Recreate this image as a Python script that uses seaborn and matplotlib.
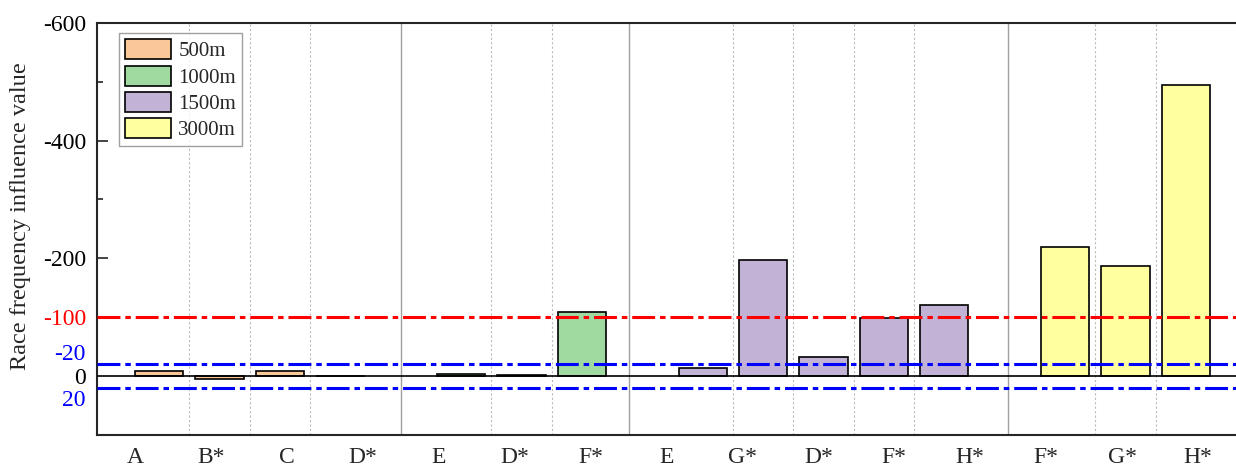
import matplotlib
matplotlib.use("Agg")
import matplotlib.pyplot as plt
import matplotlib.transforms as mtransforms
from matplotlib.patches import Patch
import numpy as np
import pandas as pd
import seaborn as sns

# ---- data ----
categories = ["A", "B*", "C", "D*", "E", "D*", "F*", "E", "G*", "D*", "F*", "H*", "F*", "G*", "H*"]
distances = ["500m"] * 4 + ["1000m"] * 3 + ["1500m"] * 5 + ["3000m"] * 3
values = [-9, 5, -8, 0, -4, -2, -109, -14, -197, -32, -99, -121, -220, -187, -494]
group_names = ["500m", "1000m", "1500m", "3000m"]
group_colors = ["#FAC898", "#A0DAA0", "#C2B2D6", "#FFFFA0"]
ref_red = [-100]
ref_blue = [-20, 20]
ytick_values = [-600, -400, -200, -100, -20, 0, 20]
ytick_colors = ["black", "black", "black", "red", "blue", "black", "blue"]

# bar positions: one slot per bar, one empty slot between distance groups
pos = []
p = 0
for i, d in enumerate(distances):
    if i > 0 and d != distances[i - 1]:
        p += 1
    pos.append(p)
    p += 1

df = pd.DataFrame({"pos": pos, "val": values, "dist": distances, "cat": categories})

sns.set_style("ticks")
plt.rcParams["font.family"] = ["Liberation Serif", "DejaVu Serif"]

fig = plt.figure(figsize=(12.36, 4.69), dpi=100)
ax = fig.add_axes([0.0785, 0.0725, 0.9215, 0.879])

palette = dict(zip(group_names, group_colors))
sns.barplot(data=df, x="pos", y="val", hue="dist", palette=palette, native_scale=True, saturation=1,
            dodge=False, width=0.8, edgecolor="black", linewidth=1.2, legend=False, ax=ax)

xmin, xmax = pos[0] - 1.03, pos[-1] + 0.83
ax.set_xlim(xmin, xmax)
ax.set_ylim(100, -600)

# dotted separators between bars of the same group
for i in range(1, len(pos)):
    if distances[i] == distances[i - 1]:
        ax.axvline((pos[i] + pos[i - 1]) / 2, color="#BBBBBB", lw=0.8, ls=(0, (2, 2)), zorder=0)

# category labels sit in equal slots across the axis
n = len(categories)
span = xmax - xmin
label_x = [xmin + (k + 0.5) / n * span for k in range(n)]
for k in range(1, n):
    if distances[k] != distances[k - 1]:
        ax.axvline(xmin + k / n * span, color="#A0A0A0", lw=1.0, zorder=0)

ax.axhline(0, color="black", lw=1.2, zorder=3)
for v in ref_red:
    ax.axhline(v, color="#FF0000", lw=2.2, ls=(0, (7.5, 1.6, 1.8, 1.6)), zorder=4)
for v in ref_blue:
    ax.axhline(v, color="#0000FF", lw=2.2, ls=(0, (7.5, 1.6, 1.8, 1.6)), zorder=4)

ax.set_xticks(label_x)
ax.set_xticklabels(categories, fontsize=17)
ax.tick_params(axis="x", length=0, pad=9)

ax.set_yticks(ytick_values)
ax.set_yticklabels([str(v) for v in ytick_values], fontsize=17)
ax.set_yticks([-500, -300], minor=True)
ax.tick_params(axis="y", which="major", direction="in", length=8, width=1.2, pad=8)
ax.tick_params(axis="y", which="minor", direction="in", length=4, width=1.2)
for tick, lab, c, v in zip(ax.yaxis.get_major_ticks(), ax.get_yticklabels(), ytick_colors, ytick_values):
    lab.set_color(c)
    if v > -200:
        tick.tick1line.set_visible(False)
    if v == -20:
        lab.set_transform(lab.get_transform() + mtransforms.ScaledTranslation(0, 12.5 / 100, fig.dpi_scale_trans))
    if v == 20:
        lab.set_transform(lab.get_transform() + mtransforms.ScaledTranslation(0, -10 / 100, fig.dpi_scale_trans))

ax.set_xlabel("")
ax.set_ylabel("Race frequency influence value", fontsize=17.5)
ax.yaxis.set_label_coords(-0.058, 0.531)

for s in ["left", "top", "bottom"]:
    ax.spines[s].set_linewidth(1.5)
ax.spines["right"].set_visible(False)

handles = [Patch(facecolor=c, edgecolor="black", linewidth=1.2, label=g) for g, c in zip(group_names, group_colors)]
leg = ax.legend(handles=handles, loc="upper left", bbox_to_anchor=(0.0193, 0.975), borderaxespad=0,
                fontsize=15, handlelength=2.2, handleheight=1.1, labelspacing=0.2, handletextpad=0.35,
                borderpad=0.3, frameon=True, fancybox=False, edgecolor="#888888")
leg.get_frame().set_linewidth(1.0)

fig.savefig("out.png", dpi=100)
